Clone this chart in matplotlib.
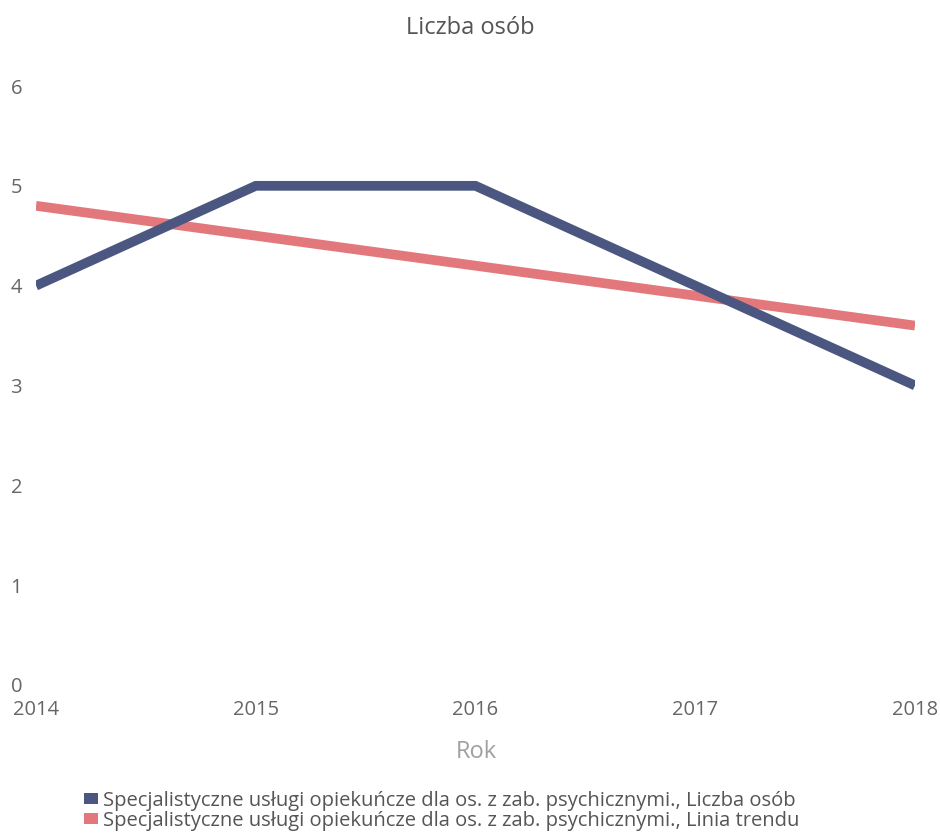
import matplotlib
matplotlib.use("Agg")
import matplotlib.pyplot as plt
from matplotlib.patches import Patch

years = [2014, 2015, 2016, 2017, 2018]
liczba_osob = [4, 5, 5, 4, 3]
linia_trendu = [4.8, 4.5, 4.2, 3.9, 3.6]
y_ticks = [0, 1, 2, 3, 4, 5, 6]
series_names = [
    "Specjalistyczne usługi opiekuńcze dla os. z zab. psychicznymi., Liczba osób",
    "Specjalistyczne usługi opiekuńcze dla os. z zab. psychicznymi., Linia trendu",
]
title = "Liczba osób"
xlabel = "Rok"

plt.rcParams['font.family'] = ['Open Sans', 'DejaVu Sans']
blue = "#4b5781"
red = "#e2787c"

fig = plt.figure(figsize=(9.4, 8.35), dpi=100)
ax = fig.add_axes([36/940, (835-685)/835, (915-36)/940, (685-86)/835])

ax.plot(years, liczba_osob, color=blue, lw=7, solid_joinstyle='miter', solid_capstyle='butt', zorder=3)
ax.plot(years, linia_trendu, color=red, lw=7, solid_capstyle='butt', zorder=2)

ax.set_xlim(2014, 2018)
ax.set_ylim(0, 6)
for s in ax.spines.values():
    s.set_visible(False)
ax.set_yticks(y_ticks)
ax.set_yticklabels([str(v) for v in y_ticks])
ax.set_xticks(years)
ax.set_xticklabels([str(y) for y in years])
ax.tick_params(axis='both', length=0, colors="#666666", labelsize=14.5)
ax.tick_params(axis='y', pad=10)
ax.tick_params(axis='x', pad=11)

fig.text(0.5, 1 - 28/835, title, ha='center', va='center', fontsize=17, color="#555555")
fig.text(476/940, 1 - 752/835, xlabel, ha='center', va='center', fontsize=17, color="#a0a0a0")

handles = [Patch(facecolor=blue, edgecolor='none'), Patch(facecolor=red, edgecolor='none')]
fig.legend(handles, series_names, loc='center', bbox_to_anchor=(442/940, 1 - 811/835),
           frameon=False, fontsize=14.5, labelcolor="#555555", handlelength=0.7, handleheight=0.45,
           handletextpad=0.25, labelspacing=0.0, borderpad=0)

fig.savefig("out.png", dpi=100)
